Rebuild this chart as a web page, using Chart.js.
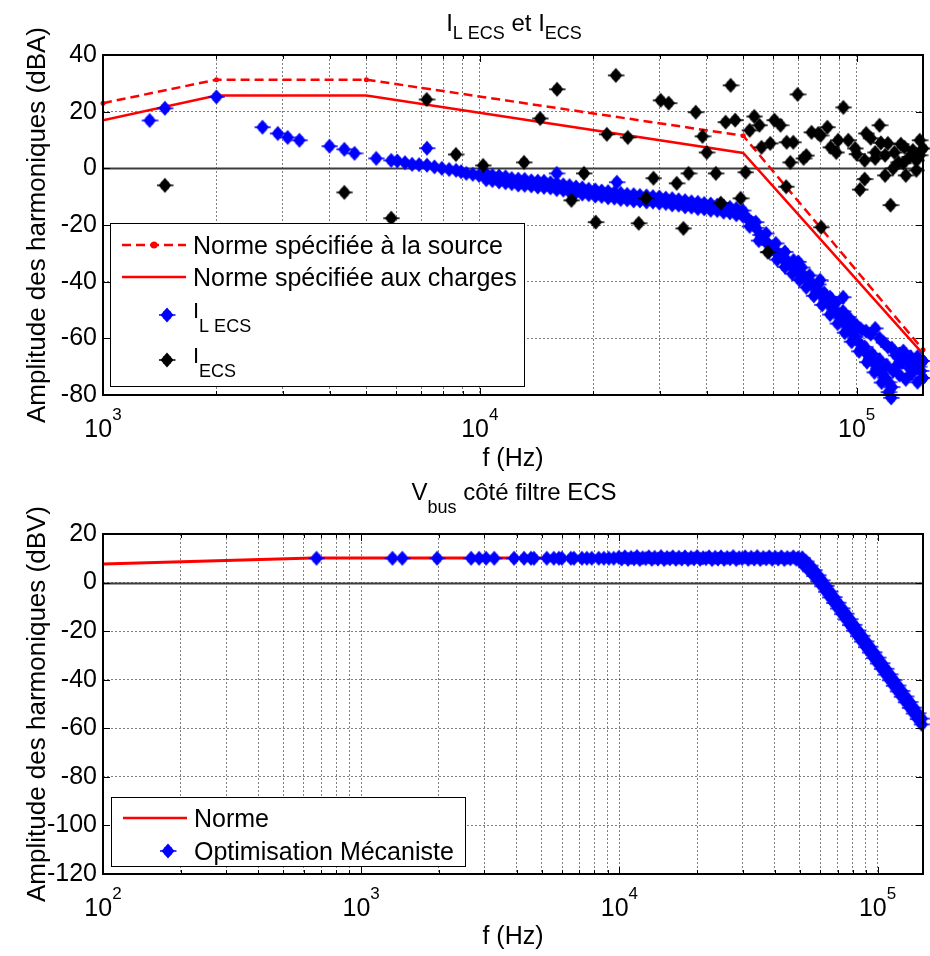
<!DOCTYPE html>
<html>
<head>
<meta charset="utf-8">
<title>I_L ECS et I_ECS / Vbus</title>
<script src="https://cdn.jsdelivr.net/npm/chart.js@4.4.1/dist/chart.umd.min.js"></script>
<style>
  body { margin: 0; background: #fff; }
  #wrap { position: relative; width: 930px; height: 956px; }
  #wrap canvas { position: absolute; left: 0; }
  #topChart { top: 0; }
  #bottomChart { top: 478px; }
</style>
</head>
<body>
<div id="wrap">
  <canvas id="topChart" width="930" height="478"></canvas>
  <canvas id="bottomChart" width="930" height="478"></canvas>
</div>
<script>
// ===================== DATA =====================

// --- top plot: I_L ECS et I_ECS ---
const topGridX = [1000, 2000, 3000, 4000, 5000, 6000, 7000, 8000, 9000,
                  10000, 20000, 30000, 40000, 50000, 60000, 70000, 80000, 90000, 100000];
const topDecades = [[1000, '3'], [10000, '4'], [100000, '5']];
const topYTicks = [-80, -60, -40, -20, 0, 20, 40];

const normeSource = [[1000, 23], [2000, 31.3], [5000, 31.3], [50000, 11.5], [150000, -64]];
const normeCharges = [[1000, 17], [2000, 25.7], [5000, 25.7], [50000, 5.4], [150000, -65.5]];

const iLEcs = [
  [1330, 16.9], [1460, 21.2], [2000, 25.2], [2650, 14.5], [2910, 12.3], [3090, 10.9], [3320, 9.9],
  [3990, 7.8], [4370, 6.7], [4650, 5.3], [5310, 3.5], [5820, 2.8], [6040, 2.6], [6330, 2.0], [6610, 1.4],
  [6900, 1.3], [7240, 1.1], [7240, 7.1], [7580, 0.5], [7930, 0.0], [8290, -0.4], [8650, -0.7], [8920, -1.2],
  [9210, -1.8], [9580, -2.1], [9950, -2.5],
  // dense band 10 - 50 kHz
  [10400, -2.0], [10400, -4.0], [10800, -2.5], [10800, -4.3], [11250, -2.7], [11250, -4.8],
  [11700, -3.0], [11700, -5.1], [12150, -3.6], [12150, -5.4], [12650, -3.8], [12650, -5.9],
  [13150, -3.9], [13150, -6.0], [13700, -4.4], [13700, -6.2], [14250, -4.5], [14250, -6.6],
  [14800, -4.6], [14800, -6.7], [15400, -5.1], [15400, -6.9], [16000, -5.3], [16000, -7.5],
  [16650, -5.8], [16650, -7.7], [17300, -6.1], [17300, -8.3], [18000, -6.6], [18000, -8.5],
  [18700, -6.9], [18700, -9.1], [19450, -7.4], [19450, -9.3], [20250, -7.6], [20250, -9.8],
  [21050, -8.0], [21050, -9.9], [21900, -8.2], [21900, -10.4], [22750, -8.6], [22750, -10.5],
  [23650, -8.8], [23650, -11.0], [24600, -9.2], [24600, -11.1], [25600, -9.3], [25600, -11.5],
  [26600, -9.6], [26600, -11.5], [27700, -9.7], [27700, -11.9], [28800, -10.0], [28800, -11.9],
  [29950, -10.1], [29950, -12.3], [31150, -10.5], [31150, -12.4], [32400, -10.7], [32400, -12.9],
  [33700, -11.1], [33700, -13.0], [35050, -11.4], [35050, -13.6], [36450, -11.8], [36450, -13.7],
  [37900, -12.0], [37900, -14.2], [39400, -12.4], [39400, -14.3], [41000, -12.6], [41000, -14.8],
  [42650, -13.0], [42650, -14.9], [44350, -13.3], [44350, -15.5], [46100, -13.8], [46100, -15.7],
  [47950, -14.2], [47950, -16.4], [49850, -14.9], [49850, -16.8],
  [16000, -1.8], [23100, -4.9],
  // roll-off above 50 kHz: main branch
  [51000, -17.2], [52500, -19.0], [54000, -21.0], [55500, -23.5], [57000, -25.5], [58500, -27.0],
  [60000, -28.4], [61500, -29.7], [63000, -31.0], [64500, -32.2], [66000, -33.4], [67500, -34.5],
  [69000, -35.5], [70500, -36.6], [72000, -37.8], [73500, -39.0], [75000, -40.2], [77000, -41.8],
  [79000, -43.4], [81000, -45.0], [83000, -46.6], [85000, -48.2], [87000, -49.8], [89000, -51.4],
  [91000, -53.0], [93000, -54.6], [95000, -56.2], [97000, -57.8], [99000, -59.5], [101500, -61.5],
  [104000, -63.6], [106500, -65.5], [109000, -67.3], [111500, -69.0], [114000, -70.7], [116500, -72.3],
  [119000, -73.9], [121500, -75.5], [124000, -77.2],
  // roll-off: lower edge
  [52000, -20.5], [55000, -25.5], [58500, -29.5], [61500, -32.2], [64500, -34.8], [67500, -37.2],
  [70500, -39.4], [73500, -42.0], [77000, -45.0], [81000, -48.2], [85000, -51.6], [89000, -54.8],
  [93000, -58.0], [97000, -61.2], [101500, -64.6], [106500, -68.4], [111500, -72.0], [116500, -75.6],
  [121500, -79.0], [123500, -81.0],
  // roll-off: upper edge
  [54000, -19.0], [57500, -23.0], [61000, -26.5], [64500, -29.5], [68000, -32.5], [71500, -35.0],
  [75000, -37.8], [79000, -41.0],
  // high-frequency spread
  [70000, -33.0], [80000, -39.5], [82000, -44.0], [85000, -45.5], [88000, -47.5], [92100, -45.5],
  [92000, -50.5], [95000, -52.5], [98000, -54.5], [100000, -55.5], [103000, -57.0], [106000, -57.5],
  [109000, -58.5], [112000, -56.5], [115000, -60.0], [118000, -61.5], [121000, -63.0], [124000, -63.5],
  [127000, -66.0], [130000, -65.5], [133000, -64.5], [136000, -67.5], [139000, -66.5], [142000, -69.5],
  [145000, -66.5], [148000, -71.5], [150000, -68.0],
  [105000, -63.0], [110000, -65.5], [115000, -67.5], [120000, -69.5], [125000, -71.5], [128000, -69.5],
  [130000, -73.0], [132000, -68.5], [135000, -74.5], [138000, -70.5], [140000, -72.5], [145000, -75.5],
  [146000, -70.0], [150000, -74.0]
];

const iEcs = [
  [1460, -6], [4370, -8.5], [5820, -17.6], [7230, 24.3], [8640, 4.9], [10200, 1.0], [13100, 2.1],
  [14460, 17.6], [16030, 27.9], [17500, -11.3], [18900, -1.8], [20300, -19], [21730, 12], [22960, 32.8],
  [24700, 10.9], [26400, -19.4], [27600, -10.6], [28900, -3.5], [30200, 24], [31700, 23], [33300, -5.3],
  [34700, -21.2], [35800, -1.8], [37400, 19.8], [39000, 11.3], [40000, 5.6], [42300, -1.8], [43600, -12.3],
  [44900, 16.3], [46300, 29.3], [47600, 17], [49200, -10.6], [50700, -1.4], [52000, 13.4], [53500, 18.3],
  [55200, 15.2], [55900, 7.4], [58100, -29.6], [59000, 8.8], [60500, 17], [62800, 15.2], [65000, -6.5],
  [65200, 9.2], [66700, 2.1], [67900, 9.2], [69700, 26.1], [72300, 3.5], [73500, 4.5], [75900, 12.7],
  [79100, 12.3], [80200, 11.6], [80500, -20.8], [83600, 14.5], [85300, 7.4], [88300, 5.6], [89300, 9.9],
  [92200, 21.5], [95000, 9.9], [99100, 7], [100000, 5], [102000, -7.5], [105000, -3.8], [105000, 2.8],
  [106000, 12.3], [109000, 10.6], [112000, 5.6], [112000, 3.5], [115000, 15.2], [116000, 9],
  [119000, 4.6], [119000, -2.5], [121000, 8.8], [123000, -13], [125000, 0], [126000, 5.6], [129000, 2.1],
  [131000, 8.5], [133000, 1.8], [134000, 7.4], [135000, -2.5], [138000, 4], [141000, 6.3], [144000, 2.8],
  [144000, -0.7], [147000, 9.9], [147000, 4.6], [150000, 7]
];

// --- bottom plot: Vbus côté filtre ECS ---
const botGridX = [100, 200, 300, 400, 500, 600, 700, 800, 900,
                  1000, 2000, 3000, 4000, 5000, 6000, 7000, 8000, 9000,
                  10000, 20000, 30000, 40000, 50000, 60000, 70000, 80000, 90000, 100000];
const botDecades = [[100, '2'], [1000, '3'], [10000, '4'], [100000, '5']];
const botYTicks = [-120, -100, -80, -60, -40, -20, 0, 20];

const norme = [[100, 7.6], [650, 10.1], [50000, 10.1], [150000, -57]];

const optimMeca = [
  [671, 10], [1322, 10], [1443, 10], [1968, 10], [2666, 10], [2863, 10], [3047, 10], [3275, 10],
  [3908, 10], [4273, 10], [4545, 10], [4667, 10], [5236, 10], [5572, 10], [5834, 10], [5987, 10],
  [6486, 10], [6667, 10], [7161, 10], [7483, 10], [7817, 10], [8318, 10], [8710, 10], [9100, 10], [9510, 10],
  // flat dense part
  [9950, 10.4], [10200, 9.7], [10500, 10.6], [10800, 9.6], [11100, 10.3], [11400, 9.8], [11700, 10.7],
  [12000, 9.5], [12300, 10.2], [12650, 9.9], [13000, 10.6], [13350, 9.6], [13700, 10.4], [14100, 9.7],
  [14500, 10.7], [14900, 9.5], [15300, 10.3], [15700, 9.8], [16100, 10.6], [16550, 9.6], [17000, 10.4],
  [17450, 9.7], [17950, 10.6], [18450, 9.5], [18950, 10.3], [19450, 9.8], [20000, 10.7], [20550, 9.6],
  [21100, 10.2], [21650, 9.9], [22250, 10.6], [22850, 9.5], [23500, 10.4], [24100, 9.7], [24750, 10.6],
  [25450, 9.6], [26150, 10.3], [26850, 9.8], [27600, 10.7], [28350, 9.5], [29100, 10.2], [29900, 9.9],
  [30700, 10.6], [31550, 9.6], [32400, 10.4], [33300, 9.7], [34200, 10.7], [35150, 9.5], [36100, 10.3],
  [37050, 9.8], [38050, 10.6], [39100, 9.6], [40150, 10.4], [41250, 9.7], [42400, 10.6], [43550, 9.5],
  [44700, 10.3], [45950, 9.8], [47200, 10.6], [48500, 9.6], [49300, 10.2],
  // roll-off, upper and lower rows
  [51100, 10.2], [51100, 7.8], [52900, 8.7], [52900, 6.3], [54800, 7.0], [54800, 4.6],
  [56800, 5.1], [56800, 2.7], [58900, 3.0], [58900, 0.6], [61000, 0.9], [61000, -1.5],
  [63200, -1.4], [63200, -3.8], [65500, -3.7], [65500, -6.1], [67900, -6.0], [67900, -8.4],
  [70300, -8.3], [70300, -10.7], [72900, -10.6], [72900, -13.0], [75500, -12.8], [75500, -15.2],
  [78200, -15.1], [78200, -17.5], [81000, -17.4], [81000, -19.8], [84000, -19.7], [84000, -22.1],
  [87000, -21.9], [87000, -24.3], [90200, -24.2], [90200, -26.6], [93400, -26.4], [93400, -28.8],
  [96800, -28.7], [96800, -31.1], [100300, -30.9], [100300, -33.3], [103900, -33.2], [103900, -35.6],
  [107700, -35.5], [107700, -37.9], [111600, -37.8], [111600, -40.2], [115600, -40.1], [115600, -42.5],
  [119800, -42.4], [119800, -44.8], [124100, -44.6], [124100, -47.0], [128600, -46.9], [128600, -49.3],
  [133300, -49.2], [133300, -51.6], [138100, -51.5], [138100, -53.9], [143100, -53.8], [143100, -56.2],
  [148300, -56.0], [148300, -58.4]
];

// ===================== DRAWING HELPERS =====================

const FONT = '"Liberation Sans", Arial, Helvetica, sans-serif';
const FS = 25;
const RED = '#ff0000';
const BLUE = '#0000ff';
const GRID = 'rgba(0, 0, 0, 0.5)';

function toPts(arr) {
    return arr.map(function(p) { return { x: p[0], y: p[1] }; });
}

// fat filled diamond with short plus arms, like the matlab markers
function makeMarker(color) {
    const c = document.createElement('canvas');
    c.width = 18;
    c.height = 18;
    const g = c.getContext('2d');
    g.fillStyle = color;
    g.strokeStyle = color;
    g.beginPath();
    g.moveTo(9, 1.5); g.lineTo(15.5, 9); g.lineTo(9, 16.5); g.lineTo(2.5, 9);
    g.closePath();
    g.fill();
    g.fillRect(5, 5.5, 8, 7);
    g.lineWidth = 1.5;
    g.beginPath();
    g.moveTo(1, 9); g.lineTo(17.5, 9);
    g.stroke();
    return c;
}
const blueMarker = makeMarker(BLUE);
const blackMarker = makeMarker('#000');

// text made of pieces: [text, size, dy]
function drawRich(ctx, parts, x, y, align) {
    let w = 0;
    parts.forEach(function(p) {
        ctx.font = p[1] + 'px ' + FONT;
        w += ctx.measureText(p[0]).width;
    });
    let cx = align === 'center' ? x - w / 2 : x;
    ctx.textAlign = 'left';
    ctx.textBaseline = 'alphabetic';
    ctx.fillStyle = '#000';
    parts.forEach(function(p) {
        ctx.font = p[1] + 'px ' + FONT;
        ctx.fillText(p[0], cx, y + (p[2] || 0));
        cx += ctx.measureText(p[0]).width;
    });
}

function line(ctx, x1, y1, x2, y2) {
    ctx.beginPath();
    ctx.moveTo(x1, y1);
    ctx.lineTo(x2, y2);
    ctx.stroke();
}

function figurePlugin(cfg) {
    return {
        id: 'figure',
        beforeDatasetsDraw(chart) {
            // solid zero line
            const ctx = chart.ctx;
            const a = chart.chartArea;
            const y0 = Math.round(chart.scales.y.getPixelForValue(0)) + 0.5;
            ctx.save();
            ctx.strokeStyle = '#3c3c3c';
            ctx.lineWidth = 2;
            line(ctx, a.left, y0, a.right, y0);
            ctx.restore();
        },
        afterDatasetsDraw(chart) {
            // axes box and inner tick marks
            const ctx = chart.ctx;
            const a = chart.chartArea;
            const xs = chart.scales.x;
            const ys = chart.scales.y;
            ctx.save();
            ctx.strokeStyle = '#000';
            ctx.lineWidth = 1;
            cfg.gridX.forEach(function(v) {
                const x = Math.round(xs.getPixelForValue(v)) + 0.5;
                const len = String(v)[0] === '1' ? 7 : 4;
                line(ctx, x, a.bottom, x, a.bottom - len);
                line(ctx, x, a.top, x, a.top + len);
            });
            cfg.yTicks.forEach(function(v) {
                const y = Math.round(ys.getPixelForValue(v)) + 0.5;
                line(ctx, a.left, y, a.left + 7, y);
                line(ctx, a.right, y, a.right - 7, y);
            });
            ctx.lineWidth = 2;
            ctx.strokeRect(a.left, a.top, a.right - a.left, a.bottom - a.top);
            ctx.restore();
        },
        afterDraw(chart) {
            const ctx = chart.ctx;
            const a = chart.chartArea;
            const xs = chart.scales.x;
            ctx.save();

            // title
            drawRich(ctx, cfg.title, 514, cfg.titleY, 'center');

            // decade labels 10^n
            cfg.decades.forEach(function(d) {
                const x = xs.getPixelForValue(d[0]);
                ctx.font = FS + 'px ' + FONT;
                const w1 = ctx.measureText('10').width;
                ctx.font = '17px ' + FONT;
                const w2 = ctx.measureText(d[1]).width;
                const x0 = x - (w1 + w2) / 2;
                ctx.fillStyle = '#000';
                ctx.textAlign = 'left';
                ctx.textBaseline = 'alphabetic';
                ctx.font = FS + 'px ' + FONT;
                ctx.fillText('10', x0, a.bottom + 42);
                ctx.font = '17px ' + FONT;
                ctx.fillText(d[1], x0 + w1, a.bottom + 25);
            });

            // legend
            const lg = cfg.legend;
            ctx.fillStyle = '#fff';
            ctx.fillRect(lg.x, lg.y, lg.w, lg.h);
            ctx.strokeStyle = '#000';
            ctx.lineWidth = 1;
            ctx.strokeRect(lg.x + 0.5, lg.y + 0.5, lg.w, lg.h);
            lg.items.forEach(function(it) {
                if (it.kind === 'line') {
                    ctx.save();
                    ctx.strokeStyle = it.color;
                    ctx.lineWidth = 2.5;
                    ctx.setLineDash(it.dash || []);
                    line(ctx, lg.x + 12, it.y, lg.x + 76, it.y);
                    ctx.restore();
                    if (it.dot) {
                        ctx.fillStyle = it.color;
                        ctx.beginPath();
                        ctx.arc(lg.x + 44, it.y, 3.5, 0, Math.PI * 2);
                        ctx.fill();
                    }
                } else {
                    ctx.drawImage(it.img, lg.x + 57 - 9, it.y - 9);
                }
                drawRich(ctx, it.text, lg.x + 83, it.base, 'left');
            });
            ctx.restore();
        }
    };
}

function makeChart(id, cfg) {
    return new Chart(document.getElementById(id), {
        type: 'scatter',
        data: { datasets: cfg.datasets },
        options: {
            responsive: false,
            animation: false,
            events: [],
            layout: { padding: { top: cfg.top, right: 5, left: 0, bottom: 0 } },
            plugins: { legend: { display: false }, tooltip: { enabled: false } },
            scales: {
                x: {
                    type: 'logarithmic',
                    min: cfg.xMin,
                    max: cfg.xMax,
                    afterBuildTicks: function(s) { s.ticks = cfg.gridX.map(function(v) { return { value: v }; }); },
                    afterFit: function(s) { s.height = 478 - cfg.bottom; },
                    ticks: { display: false },
                    grid: { color: GRID, lineWidth: 1, drawTicks: false },
                    border: { display: false, dash: [2, 2] },
                    title: {
                        display: true, text: 'f (Hz)', color: '#000',
                        font: { family: FONT, size: FS }, padding: { top: 0, bottom: 4 }
                    }
                },
                y: {
                    min: cfg.yMin,
                    max: cfg.yMax,
                    afterBuildTicks: function(s) { s.ticks = cfg.yTicks.map(function(v) { return { value: v }; }); },
                    afterFit: function(s) { s.width = 103; },
                    ticks: { color: '#000', font: { family: FONT, size: FS }, padding: 6 },
                    grid: { color: GRID, lineWidth: 1, drawTicks: false },
                    border: { display: false, dash: [2, 2] },
                    title: {
                        display: true, text: cfg.yTitle, color: '#000',
                        font: { family: FONT, size: FS + 1 }, padding: { top: 22, bottom: 0 }
                    }
                }
            }
        },
        plugins: [figurePlugin(cfg)]
    });
}

// ===================== TOP CHART =====================
makeChart('topChart', {
    top: 55, bottom: 395,
    xMin: 1000, xMax: 150000, yMin: -80, yMax: 40,
    gridX: topGridX, yTicks: topYTicks, decades: topDecades,
    yTitle: 'Amplitude des harmoniques (dBA)',
    title: [['I', 24, 0], ['L ECS', 18, 8], [' et ', 24, 0], ['I', 24, 0], ['ECS', 18, 8]],
    titleY: 31,
    datasets: [
        { label: 'I_ECS', data: toPts(iEcs), pointStyle: blackMarker, pointRadius: 6, showLine: false, order: 0, clip: false },
        { label: 'I_L ECS', data: toPts(iLEcs), pointStyle: blueMarker, pointRadius: 6, showLine: false, order: 1, clip: false },
        { label: 'Norme spécifiée aux charges', data: toPts(normeCharges), showLine: true, borderColor: RED,
          borderWidth: 2.5, pointRadius: 0, order: 2 },
        { label: 'Norme spécifiée à la source', data: toPts(normeSource), showLine: true, borderColor: RED,
          borderWidth: 2.5, borderDash: [9, 5], pointRadius: 2.5, pointBackgroundColor: RED,
          pointBorderWidth: 0, order: 3, clip: false }
    ],
    legend: {
        x: 110, y: 223, w: 414, h: 163,
        items: [
            { kind: 'line', color: RED, dash: [9, 5], dot: true, y: 245, base: 254, text: [['Norme spécifiée à la source', FS, 0]] },
            { kind: 'line', color: RED, y: 277, base: 286, text: [['Norme spécifiée aux charges', FS, 0]] },
            { kind: 'marker', img: blueMarker, y: 315, base: 318, text: [['I', 22, 0], ['L ECS', 18, 14]] },
            { kind: 'marker', img: blackMarker, y: 360, base: 363, text: [['I', 22, 0], ['ECS', 18, 14]] }
        ]
    }
});

// ===================== BOTTOM CHART =====================
makeChart('bottomChart', {
    top: 56, bottom: 396,
    xMin: 100, xMax: 150000, yMin: -120, yMax: 20,
    gridX: botGridX, yTicks: botYTicks, decades: botDecades,
    yTitle: 'Amplitude des harmoniques (dBV)',
    title: [['V', 24, 0], ['bus', 18, 13], [' côté filtre ECS', 24, 0]],
    titleY: 22,
    datasets: [
        { label: 'Optimisation Mécaniste', data: toPts(optimMeca), pointStyle: blueMarker, pointRadius: 6, showLine: false, order: 0, clip: false },
        { label: 'Norme', data: toPts(norme), showLine: true, borderColor: RED, borderWidth: 3, pointRadius: 0, order: 1 }
    ],
    legend: {
        x: 111, y: 319, w: 354, h: 69,
        items: [
            { kind: 'line', color: RED, y: 340, base: 349, text: [['Norme', FS, 0]] },
            { kind: 'marker', img: blueMarker, y: 373, base: 382, text: [['Optimisation Mécaniste', FS, 0]] }
        ]
    }
});
</script>
</body>
</html>
